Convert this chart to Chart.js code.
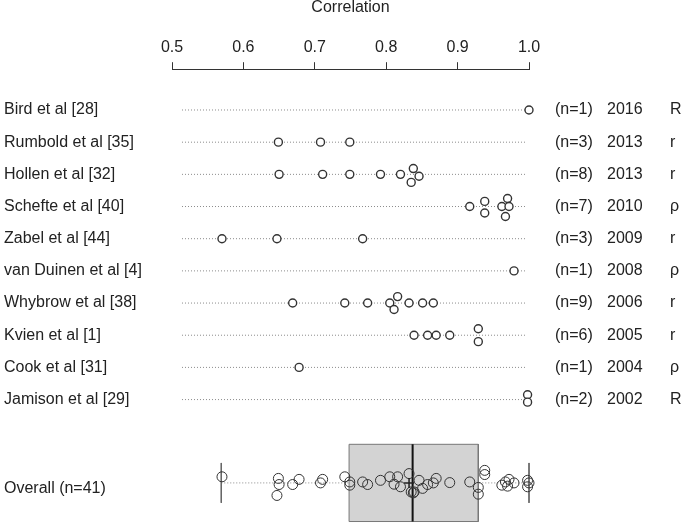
<!DOCTYPE html>
<html lang="en">
<head>
    <meta charset="UTF-8">
    <script src="https://cdn.jsdelivr.net/npm/chart.js"></script>
    <title>Correlation by study</title>
    <style>
        html, body { margin: 0; padding: 0; background: #fff; }
        #wrap { width: 685px; height: 524px; }
    </style>
</head>
<body>
    <div id="wrap">
        <canvas id="corrChart" width="685" height="524"></canvas>
    </div>

    <script>
    // study rows, top to bottom
    const studies = ['Bird et al [28]', 'Rumbold et al [35]', 'Hollen et al [32]', 'Schefte et al [40]',
        'Zabel et al [44]', 'van Duinen et al [4]', 'Whybrow et al [38]', 'Kvien et al [1]',
        'Cook et al [31]', 'Jamison et al [29]'];
    const nLabels = ['(n=1)', '(n=3)', '(n=8)', '(n=7)', '(n=3)', '(n=1)', '(n=9)', '(n=6)', '(n=1)', '(n=2)'];
    const years = ['2016', '2013', '2013', '2010', '2009', '2008', '2006', '2005', '2004', '2002'];
    const coefTypes = ['R', 'r', 'r', 'ρ', 'r', 'ρ', 'r', 'r', 'ρ', 'R'];

    const rowValues = [
        [1.000],
        [0.649, 0.708, 0.749],
        [0.650, 0.711, 0.749, 0.792, 0.820, 0.835, 0.838, 0.846],
        [0.917, 0.938, 0.938, 0.962, 0.967, 0.970, 0.972],
        [0.570, 0.647, 0.767],
        [0.979],
        [0.669, 0.742, 0.774, 0.805, 0.811, 0.816, 0.832, 0.851, 0.866],
        [0.839, 0.858, 0.870, 0.889, 0.929, 0.929],
        [0.678],
        [0.998, 0.998]
    ];
    // vertical spread of overlapping points, in row units
    const rowJitter = [
        [0],
        [0, 0, 0],
        [0, 0, 0, 0, 0, 0.25, -0.18, 0.06],
        [0, -0.16, 0.2, 0, 0.31, -0.25, 0],
        [0, 0, 0],
        [0],
        [0, 0, 0, 0, 0.2, -0.2, 0, 0, 0],
        [0, 0, 0, 0, -0.2, 0.2],
        [0],
        [-0.15, 0.08]
    ];

    // overall strip (all 41 correlations)
    const overallValues = [0.570, 0.649, 0.650, 0.647, 0.669, 0.678, 0.708, 0.711, 0.742, 0.749,
        0.749, 0.767, 0.774, 0.792, 0.805, 0.816, 0.811, 0.820, 0.832, 0.835,
        0.838, 0.839, 0.846, 0.851, 0.858, 0.866, 0.870, 0.889, 0.917, 0.929,
        0.929, 0.938, 0.938, 0.962, 0.967, 0.970, 0.972, 0.979, 0.998, 0.998, 1.000];
    const overallJitter = [-0.19, -0.14, 0.05, 0.39, 0.05, -0.11, 0, -0.11, -0.19, -0.03,
        0.07, -0.03, 0.05, -0.08, -0.19, -0.19, 0.04, 0.12, -0.29, 0.28,
        0.31, 0.28, -0.08, 0.17, 0.05, 0, -0.14, -0.01, -0.03, 0.14,
        0.35, -0.39, -0.26, 0.07, -0.03, 0.1, -0.11, 0, 0.12, -0.08, 0];
    const boxFive = [0.569, 0.748, 0.837, 0.929, 1.000]; // min, q1, median, q3, max
    const overallMean = 0.832;

    const tickValues = [0.5, 0.6, 0.7, 0.8, 0.9, 1.0];
    const tickLabels = ['0.5', '0.6', '0.7', '0.8', '0.9', '1.0'];
    const lineRange = [0.514, 0.997];

    const OVERALL_ROW = 11.59;
    const BOX_HALF = 1.2;
    const WHISKER_HALF = 0.62;
    const FONT = '"Liberation Sans", Arial, sans-serif';
    const TEXT = '#222';

    Chart.defaults.font.family = FONT;

    const datasets = [];

    // dotted guide lines
    studies.forEach((s, i) => {
        datasets.push({
            type: 'line',
            data: [{x: lineRange[0], y: i}, {x: lineRange[1], y: i}],
            borderColor: '#8a8a8a',
            borderWidth: 1,
            borderDash: [1, 2],
            pointRadius: 0,
            order: 6
        });
    });
    datasets.push({
        type: 'line',
        data: [{x: boxFive[0], y: OVERALL_ROW}, {x: boxFive[4], y: OVERALL_ROW}],
        borderColor: '#8a8a8a',
        borderWidth: 1,
        borderDash: [1, 2],
        pointRadius: 0,
        order: 6
    });

    // box
    datasets.push({
        type: 'line',
        data: [
            {x: boxFive[1], y: OVERALL_ROW - BOX_HALF},
            {x: boxFive[3], y: OVERALL_ROW - BOX_HALF},
            {x: boxFive[3], y: OVERALL_ROW + BOX_HALF},
            {x: boxFive[1], y: OVERALL_ROW + BOX_HALF},
            {x: boxFive[1], y: OVERALL_ROW - BOX_HALF}
        ],
        borderColor: '#777',
        backgroundColor: '#d3d3d3',
        borderWidth: 1,
        fill: 'shape',
        pointRadius: 0,
        order: 4
    });

    // whiskers
    [boxFive[0], boxFive[4]].forEach(v => {
        datasets.push({
            type: 'line',
            data: [{x: v, y: OVERALL_ROW - WHISKER_HALF}, {x: v, y: OVERALL_ROW + WHISKER_HALF}],
            borderColor: '#666',
            borderWidth: 1,
            pointRadius: 0,
            order: 3
        });
    });

    // median
    datasets.push({
        type: 'line',
        data: [{x: boxFive[2], y: OVERALL_ROW - BOX_HALF}, {x: boxFive[2], y: OVERALL_ROW + BOX_HALF}],
        borderColor: '#111',
        borderWidth: 2,
        pointRadius: 0,
        order: 2
    });

    // study points
    datasets.push({
        type: 'scatter',
        data: rowValues.flatMap((vals, i) => vals.map((v, j) => ({x: v, y: i + rowJitter[i][j]}))),
        pointStyle: 'circle',
        pointRadius: 4,
        pointBorderWidth: 1.4,
        pointBorderColor: '#333',
        pointBackgroundColor: '#fff',
        order: 1
    });

    // overall points
    datasets.push({
        type: 'scatter',
        data: overallValues.map((v, j) => ({x: v, y: OVERALL_ROW + overallJitter[j]})),
        pointStyle: 'circle',
        pointRadius: 5,
        pointBorderWidth: 1,
        pointBorderColor: '#333',
        pointBackgroundColor: 'rgba(0,0,0,0)',
        order: 1
    });

    // mean marker
    datasets.push({
        type: 'scatter',
        data: [{x: overallMean, y: OVERALL_ROW}],
        pointStyle: 'cross',
        pointRadius: 5,
        pointBorderWidth: 1.5,
        pointBorderColor: '#222',
        order: 0
    });

    datasets.forEach(d => { d.clip = false; });

    const rowText = {
        id: 'rowText',
        afterDraw(chart) {
            const ctx = chart.ctx;
            const y = chart.scales.y;
            ctx.save();
            ctx.fillStyle = TEXT;
            ctx.font = '16px ' + FONT;
            ctx.textBaseline = 'middle';
            ctx.textAlign = 'left';
            studies.forEach((s, i) => {
                const py = y.getPixelForValue(i);
                ctx.fillText(s, 4, py);
                ctx.fillText(nLabels[i], 555, py);
                ctx.fillText(years[i], 607, py);
                ctx.fillText(coefTypes[i], 670, py);
            });
            ctx.fillText('Overall (n=41)', 4, y.getPixelForValue(OVERALL_ROW) + 6);
            ctx.restore();
        }
    };

    new Chart(document.getElementById('corrChart'), {
        type: 'scatter',
        data: {datasets: datasets},
        options: {
            responsive: false,
            animation: false,
            layout: {autoPadding: false, padding: {left: 172, right: 156, top: 0, bottom: 0}},
            plugins: {
                legend: {display: false},
                tooltip: {enabled: false}
            },
            scales: {
                x: {
                    type: 'linear',
                    position: 'top',
                    min: 0.5,
                    max: 1.0,
                    afterBuildTicks: (scale) => {
                        scale.ticks = tickValues.map(v => ({value: v}));
                    },
                    ticks: {
                        color: TEXT,
                        font: {size: 16},
                        padding: 5,
                        maxRotation: 0,
                        callback: (v, idx) => tickLabels[idx]
                    },
                    grid: {
                        drawOnChartArea: false,
                        drawTicks: true,
                        tickLength: 7,
                        color: '#333'
                    },
                    border: {display: true, color: '#333', width: 1},
                    title: {
                        display: true,
                        text: 'Correlation',
                        color: TEXT,
                        font: {size: 16, lineHeight: 1},
                        padding: {top: 0, bottom: 17}
                    }
                },
                y: {
                    type: 'linear',
                    display: false,
                    reverse: true,
                    min: -1.268,
                    max: 12.867
                }
            }
        },
        plugins: [rowText]
    });
    </script>
</body>
</html>
